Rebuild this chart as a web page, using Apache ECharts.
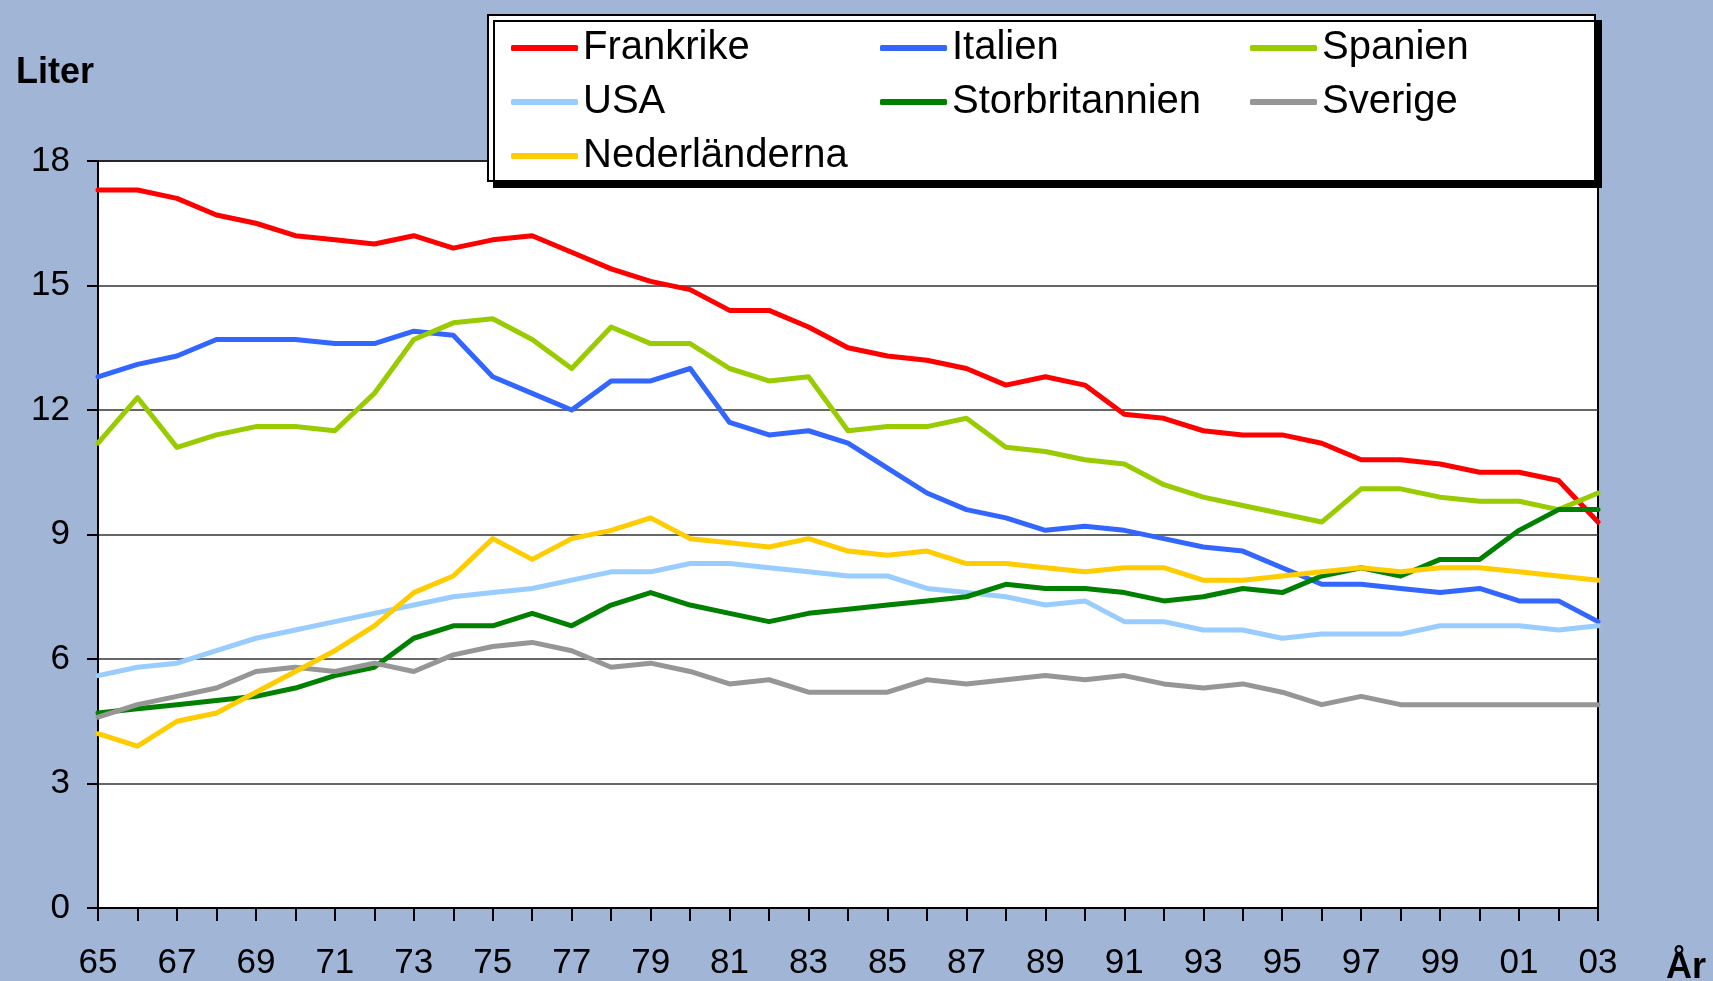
<!DOCTYPE html>
<html>
<head>
<meta charset="utf-8">
<script src="https://cdn.jsdelivr.net/npm/echarts@6/dist/echarts.min.js"></script>
<style>
  html, body { margin: 0; padding: 0; background: #a1b5d6; }
  #chart { width: 1713px; height: 981px; }
</style>
</head>
<body>
<div id="chart"></div>
<script>
const years = ['65','66','67','68','69','70','71','72','73','74','75','76','77','78','79','80','81','82','83','84',
  '85','86','87','88','89','90','91','92','93','94','95','96','97','98','99','00','01','02','03'];
const yTicks = { min: 0, max: 18, interval: 3 };

const frankrike = [17.3,17.3,17.1,16.7,16.5,16.2,16.1,16.0,16.2,15.9,
  16.1,16.2,15.8,15.4,15.1,14.9,14.4,14.4,14.0,13.5,
  13.3,13.2,13.0,12.6,12.8,12.6,11.9,11.8,11.5,11.4,
  11.4,11.2,10.8,10.8,10.7,10.5,10.5,10.3,9.3];
const italien = [12.8,13.1,13.3,13.7,13.7,13.7,13.6,13.6,13.9,13.8,
  12.8,12.4,12.0,12.7,12.7,13.0,11.7,11.4,11.5,11.2,
  10.6,10.0,9.6,9.4,9.1,9.2,9.1,8.9,8.7,8.6,
  8.2,7.8,7.8,7.7,7.6,7.7,7.4,7.4,6.9];
const spanien = [11.2,12.3,11.1,11.4,11.6,11.6,11.5,12.4,13.7,14.1,
  14.2,13.7,13.0,14.0,13.6,13.6,13.0,12.7,12.8,11.5,
  11.6,11.6,11.8,11.1,11.0,10.8,10.7,10.2,9.9,9.7,
  9.5,9.3,10.1,10.1,9.9,9.8,9.8,9.6,10.0];
const usa = [5.6,5.8,5.9,6.2,6.5,6.7,6.9,7.1,7.3,7.5,
  7.6,7.7,7.9,8.1,8.1,8.3,8.3,8.2,8.1,8.0,
  8.0,7.7,7.6,7.5,7.3,7.4,6.9,6.9,6.7,6.7,
  6.5,6.6,6.6,6.6,6.8,6.8,6.8,6.7,6.8];
const storbritannien = [4.7,4.8,4.9,5.0,5.1,5.3,5.6,5.8,6.5,6.8,
  6.8,7.1,6.8,7.3,7.6,7.3,7.1,6.9,7.1,7.2,
  7.3,7.4,7.5,7.8,7.7,7.7,7.6,7.4,7.5,7.7,
  7.6,8.0,8.2,8.0,8.4,8.4,9.1,9.6,9.6];
const sverige = [4.6,4.9,5.1,5.3,5.7,5.8,5.7,5.9,5.7,6.1,
  6.3,6.4,6.2,5.8,5.9,5.7,5.4,5.5,5.2,5.2,
  5.2,5.5,5.4,5.5,5.6,5.5,5.6,5.4,5.3,5.4,
  5.2,4.9,5.1,4.9,4.9,4.9,4.9,4.9,4.9];
const nederlanderna = [4.2,3.9,4.5,4.7,5.2,5.7,6.2,6.8,7.6,8.0,
  8.9,8.4,8.9,9.1,9.4,8.9,8.8,8.7,8.9,8.6,
  8.5,8.6,8.3,8.3,8.2,8.1,8.2,8.2,7.9,7.9,
  8.0,8.1,8.2,8.1,8.2,8.2,8.1,8.0,7.9];

const font = '"Liberation Sans", Arial, sans-serif';

const mkSeries = (name, data, color) => ({
  name: name,
  type: 'line',
  data: data,
  symbol: 'none',
  showSymbol: false,
  animation: false,
  lineStyle: { color: color, width: 5, cap: 'round', join: 'round' },
  itemStyle: { color: color }
});

const mkLegend = (names, left) => ({
  orient: 'vertical',
  left: left,
  top: 21,
  icon: 'roundRect',
  itemWidth: 67,
  itemHeight: 6,
  itemGap: 10,
  data: names,
  textStyle: { fontSize: 40, fontFamily: font, color: '#000', lineHeight: 44 }
});

const chart = echarts.init(document.getElementById('chart'))
const option = {
  backgroundColor: '#a1b5d6',
  animation: false,
  grid: {
    left: 98, top: 161, width: 1500, height: 748,
    show: true, backgroundColor: '#fff', borderColor: '#000', borderWidth: 2
  },
  legend: [
    mkLegend(['Frankrike', 'USA', 'Nederländerna'], 506),
    mkLegend(['Italien', 'Storbritannien'], 875),
    mkLegend(['Spanien', 'Sverige'], 1245)
  ],
  graphic: [
    {
      type: 'rect', z: 3,
      shape: { x: 488, y: 15, width: 1107, height: 166 },
      style: { fill: '#fff', stroke: '#000', lineWidth: 2, shadowColor: '#000', shadowOffsetX: 6, shadowOffsetY: 6, shadowBlur: 0 }
    },
    {
      type: 'text', left: 16, top: 55,
      style: { text: 'Liter', fontSize: 36, fontWeight: 'bold', fontFamily: font, fill: '#000' }
    },
    {
      type: 'text', left: 1666, top: 950,
      style: { text: 'År', fontSize: 36, fontWeight: 'bold', fontFamily: font, fill: '#000' }
    }
  ],
  xAxis: {
    type: 'category',
    boundaryGap: false,
    data: years,
    axisLine: { lineStyle: { color: '#000', width: 2 } },
    axisTick: { show: true, interval: 0, length: 13, lineStyle: { color: '#000', width: 2 } },
    axisLabel: { interval: 1, fontSize: 35, fontFamily: font, color: '#000', margin: 38 },
    splitLine: { show: false }
  },
  yAxis: {
    type: 'value',
    min: yTicks.min, max: yTicks.max, interval: yTicks.interval,
    axisLine: { show: true, lineStyle: { color: '#000', width: 2 } },
    axisTick: { show: true, length: 11, lineStyle: { color: '#000', width: 2 } },
    axisLabel: { fontSize: 35, fontFamily: font, color: '#000', margin: 28 },
    splitLine: { show: true, lineStyle: { color: '#333', width: 1.5 } }
  },
  series: [
    mkSeries('Frankrike', frankrike, '#ff0000'),
    mkSeries('Italien', italien, '#3366ff'),
    mkSeries('Spanien', spanien, '#99cc00'),
    mkSeries('USA', usa, '#99ccff'),
    mkSeries('Storbritannien', storbritannien, '#008000'),
    mkSeries('Sverige', sverige, '#969696'),
    mkSeries('Nederländerna', nederlanderna, '#ffcc00')
  ]
}
chart.setOption(option)
</script>
</body>
</html>
